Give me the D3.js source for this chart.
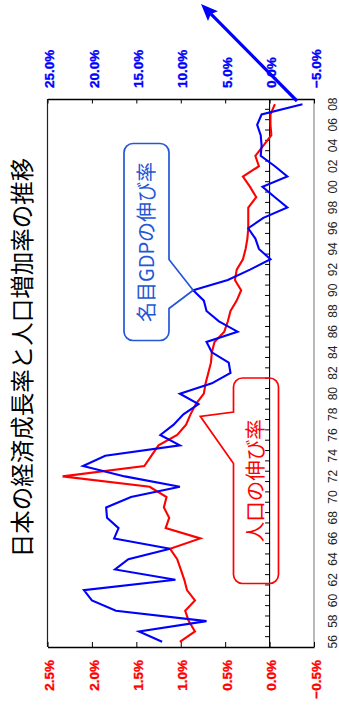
<!DOCTYPE html>
<html>
<head>
<meta charset="utf-8">
<script src="https://cdn.jsdelivr.net/npm/d3@7"></script>
<style>
  html, body { margin: 0; padding: 0; background: #fff; }
  svg { display: block; }
</style>
</head>
<body>
<svg id="chart" width="339" height="709"></svg>
<script>
// Years on the category axis (1956–2008)
const years = d3.range(1956, 2009);

// Population growth rate, % per year
const popGrowth = [
  1.01, 0.84, 0.91, 0.95, 0.84, 0.93, 0.96, 1.00, 1.04, 1.12,
  0.78, 1.17, 1.13, 1.19, 1.16, 1.35, 2.33, 1.41, 1.33, 1.25,
  1.04, 0.94, 0.89, 0.83, 0.74, 0.72, 0.69, 0.66, 0.65, 0.62,
  0.51, 0.47, 0.44, 0.37, 0.32, 0.39, 0.37, 0.30, 0.27, 0.25,
  0.24, 0.24, 0.24, 0.15, 0.22, 0.30, 0.12, 0.16, 0.07, -0.02,
  -0.01, -0.01, -0.06
];

// Nominal GDP growth rate, % per year
const gdpGrowth = [
  12.1, 14.7, 7.1, 17.3, 20.0, 20.9, 10.6, 17.4, 15.9, 11.2,
  17.5, 17.0, 18.3, 18.4, 15.6, 10.1, 16.3, 21.0, 18.5, 10.1,
  12.3, 10.8, 9.7, 8.0, 10.1, 6.5, 4.4, 4.6, 6.5, 7.1,
  3.6, 5.7, 7.1, 7.4, 8.6, 4.7, 2.2, -0.1, 1.2, 1.6,
  2.4, 0.7, -2.0, -0.6, 0.8, -2.0, -0.6, 1.0, 0.9, 1.0,
  1.4, 0.9, -3.7
];

const popTicks = [2.5, 2.0, 1.5, 1.0, 0.5, 0.0, -0.5];
const gdpTicks = [25, 20, 15, 10, 5, 0, -5];
const yearLabels = years.filter(y => y % 2 === 0);

const titleText = "日本の経済成長率と人口増加率の推移";
const popLabel = "人口の伸び率";
const gdpLabel = "名目GDPの伸び率";

// ---- layout (the chart is laid out turned a quarter turn) ----
const frame = { left: 47.5, right: 314, top: 99, bottom: 647 };
const RED = "#ff0000", BLUE = "#0000ff", CALLOUT_BLUE = "#2457d6";
const LATIN = "'Liberation Sans', Arial, sans-serif";
const CJK = "'Noto Sans CJK JP', 'Noto Sans', sans-serif";

const svg = d3.select("#chart");

const yBand = d3.scaleBand().domain(years).range([frame.bottom, frame.top]);
const yMid = yr => yBand(yr) + yBand.bandwidth() / 2;
const xPop = d3.scaleLinear().domain([2.5, -0.5]).range([frame.left, frame.right]);
const xGdp = d3.scaleLinear().domain([25, -5]).range([frame.left, frame.right]);

const popData = years.map((yr, i) => ({ year: yr, v: popGrowth[i] }));
const gdpData = years.map((yr, i) => ({ year: yr, v: gdpGrowth[i] }));

const fmtPct = d => d3.format(".1f")(d) + "%";

function styleText(sel, size, weight, family, fill) {
  sel.attr("font-size", size).attr("font-weight", weight)
     .attr("font-family", family).attr("fill", fill)
     .style("font-size", size + "px").style("font-weight", weight)
     .style("font-family", family);
}

// ---- frame ----
const frameG = svg.append("g");
frameG.append("line")
  .attr("x1", frame.left).attr("x2", frame.left)
  .attr("y1", frame.top).attr("y2", frame.bottom)
  .attr("stroke", "#222").attr("stroke-width", 1.2);
frameG.append("line")
  .attr("x1", frame.right).attr("x2", frame.right)
  .attr("y1", frame.top).attr("y2", frame.bottom)
  .attr("stroke", "#8a8a8a").attr("stroke-width", 1.2);

// Population axis (bottom edge), ticks pointing into the plot
const popAxis = svg.append("g")
  .attr("transform", `translate(0,${frame.bottom})`)
  .call(d3.axisBottom(xPop).tickValues(popTicks).tickSize(-5).tickSizeOuter(0).tickFormat(fmtPct));
popAxis.select(".domain").attr("stroke", "#000").attr("stroke-width", 1.3);
popAxis.selectAll(".tick line").attr("stroke", "#000");
popAxis.selectAll(".tick text")
  .attr("y", 0).attr("dy", "0.46em")
  .attr("transform", "translate(0,13) rotate(-90)")
  .attr("text-anchor", "end")
  .call(styleText, 13.5, "bold", LATIN, RED)
  .attr("stroke", RED).attr("stroke-width", 0.35);

// GDP axis (top edge), ticks pointing into the plot
const gdpAxis = svg.append("g")
  .attr("transform", `translate(0,${frame.top})`)
  .call(d3.axisTop(xGdp).tickValues(gdpTicks).tickSize(-4.5).tickSizeOuter(0).tickFormat(fmtPct));
gdpAxis.select(".domain").attr("stroke", "#000").attr("stroke-width", 1.3);
gdpAxis.selectAll(".tick line").attr("stroke", "#000");
gdpAxis.selectAll(".tick text")
  .attr("y", 0).attr("dy", "0.46em")
  .attr("transform", "translate(0,-11) rotate(-90)")
  .attr("text-anchor", "start")
  .call(styleText, 13.5, "bold", LATIN, BLUE)
  .attr("stroke", BLUE).attr("stroke-width", 0.35);

// Zero line with a tick at every category boundary
const x0 = xPop(0);
svg.append("line")
  .attr("x1", x0).attr("x2", x0)
  .attr("y1", frame.top).attr("y2", frame.bottom)
  .attr("stroke", "#000").attr("stroke-width", 1.1);
svg.append("g").selectAll("line")
  .data(years.slice(0, -1))
  .join("line")
  .attr("x1", x0 - 4.5).attr("x2", x0)
  .attr("y1", d => yBand(d)).attr("y2", d => yBand(d))
  .attr("stroke", "#000").attr("stroke-width", 1);

// Year labels beside the frame
svg.append("g").selectAll("text")
  .data(yearLabels)
  .join("text")
  .attr("transform", d => `translate(333,${yMid(d)}) rotate(-90)`)
  .attr("text-anchor", "middle")
  .attr("dy", "0.36em")
  .call(styleText, 12, "normal", LATIN, "#222")
  .text(d => String(d).slice(2));

// ---- series ----
const popLine = d3.line().x(d => xPop(d.v)).y(d => yMid(d.year));
const gdpLine = d3.line().x(d => xGdp(d.v)).y(d => yMid(d.year));

svg.append("path")
  .datum(popData)
  .attr("d", popLine)
  .attr("fill", "none").attr("stroke", RED).attr("stroke-width", 2.1)
  .attr("stroke-linejoin", "miter");

svg.append("path")
  .datum(gdpData)
  .attr("d", gdpLine)
  .attr("fill", "none").attr("stroke", BLUE).attr("stroke-width", 2.1)
  .attr("stroke-linejoin", "miter");

// ---- callouts ----
// Rounded box with a pointer on one side
function calloutPath(b, side, p0, p1, tip, r) {
  const { x0, y0, x1, y1 } = b;
  const p = d3.path();
  p.moveTo(x0 + r, y0);
  p.lineTo(x1 - r, y0);
  p.arcTo(x1, y0, x1, y0 + r, r);
  if (side === "right") {
    p.lineTo(x1, p0); p.lineTo(tip[0], tip[1]); p.lineTo(x1, p1);
  }
  p.lineTo(x1, y1 - r);
  p.arcTo(x1, y1, x1 - r, y1, r);
  p.lineTo(x0 + r, y1);
  p.arcTo(x0, y1, x0, y1 - r, r);
  if (side === "left") {
    p.lineTo(x0, p1); p.lineTo(tip[0], tip[1]); p.lineTo(x0, p0);
  }
  p.lineTo(x0, y0 + r);
  p.arcTo(x0, y0, x0 + r, y0, r);
  p.closePath();
  return p.toString();
}

// GDP callout, pointing at the 1990 value
const gdpBox = { x0: 124, y0: 143.5, x1: 169, y1: 340.5 };
svg.append("path")
  .attr("d", calloutPath(gdpBox, "right", 259.5, 308.5, [xGdp(gdpGrowth[years.indexOf(1990)]), yMid(1990)], 9))
  .attr("fill", "none").attr("stroke", CALLOUT_BLUE).attr("stroke-width", 1.7);
svg.append("text")
  .attr("transform", `translate(${(gdpBox.x0 + gdpBox.x1) / 2},${(gdpBox.y0 + gdpBox.y1) / 2}) rotate(-90)`)
  .attr("text-anchor", "middle").attr("dy", "0.36em")
  .call(styleText, 20, "normal", CJK, CALLOUT_BLUE)
  .text(gdpLabel);

// Population callout, pointing at the late-1970s stretch of the line
const popBox = { x0: 233.5, y0: 378, x1: 278.5, y1: 583.5 };
svg.append("path")
  .attr("d", calloutPath(popBox, "left", 412, 463.5, [xPop(0.78), yMid(1978) + 2], 9))
  .attr("fill", "none").attr("stroke", RED).attr("stroke-width", 1.7);
svg.append("text")
  .attr("transform", `translate(${(popBox.x0 + popBox.x1) / 2},${(popBox.y0 + popBox.y1) / 2}) rotate(-90)`)
  .attr("text-anchor", "middle").attr("dy", "0.36em")
  .call(styleText, 20.5, "normal", CJK, RED)
  .text(popLabel);

// ---- title ----
svg.append("text")
  .attr("transform", "translate(23,357.5) rotate(-90)")
  .attr("text-anchor", "middle").attr("dy", "0.36em")
  .call(styleText, 23.5, "normal", CJK, "#000")
  .text(titleText);

// ---- arrow out of the top corner ----
const arrowFrom = [297, 101], arrowTo = [201, 4];
const dx = arrowTo[0] - arrowFrom[0], dy = arrowTo[1] - arrowFrom[1];
const len = Math.hypot(dx, dy), ux = dx / len, uy = dy / len, nx = -uy, ny = ux;
const headLen = 17, headHalf = 7, notch = 3;
const base = [arrowTo[0] - ux * headLen, arrowTo[1] - uy * headLen];
svg.append("line")
  .attr("x1", arrowFrom[0]).attr("y1", arrowFrom[1])
  .attr("x2", base[0] + ux * notch).attr("y2", base[1] + uy * notch)
  .attr("stroke", BLUE).attr("stroke-width", 3.2);
svg.append("path")
  .attr("d", d3.line()([
    arrowTo,
    [base[0] + nx * headHalf, base[1] + ny * headHalf],
    [base[0] + ux * notch, base[1] + uy * notch],
    [base[0] - nx * headHalf, base[1] - ny * headHalf]
  ]) + "Z")
  .attr("fill", BLUE);
</script>
</body>
</html>
